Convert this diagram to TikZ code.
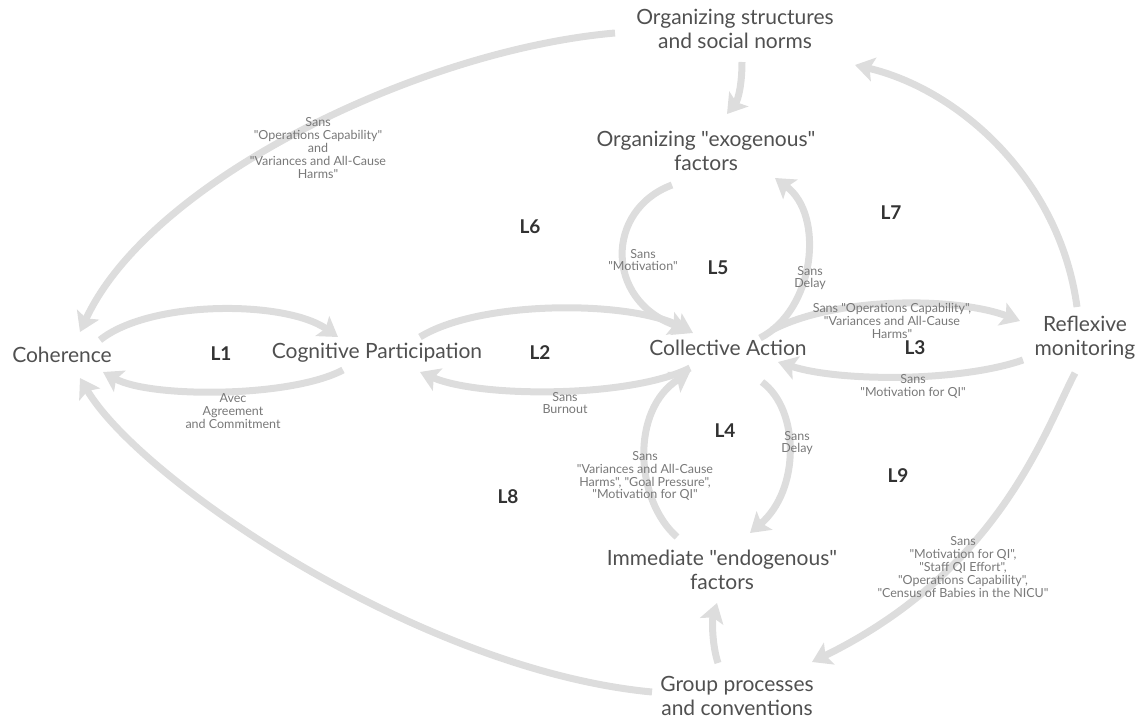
\documentclass[tikz,border=0pt]{standalone}
\usepackage{fontspec}
\setmainfont{Lato}[Ligatures=TeXOff]
\usetikzlibrary{arrows.meta}
\definecolor{flowgray}{RGB}{221,221,221}
\definecolor{nodetext}{RGB}{80,80,80}
\definecolor{looptext}{RGB}{50,50,50}
\definecolor{notetext}{RGB}{120,120,120}
\tikzset{
  x=1pt, y=-1pt,
  concept/.style={text=nodetext, font=\fontsize{21}{23.5}\selectfont, align=center, inner sep=0pt},
  looplabel/.style={text=looptext, font=\fontsize{19}{21}\selectfont\bfseries, inner sep=0pt},
  note/.style={text=notetext, font=\fontsize{12.5}{12.8}\selectfont, align=center, inner sep=0pt},
  flow/.style={draw=flowgray, line width=7pt,
    -{Stealth[length=19pt, width=24pt, inset=4pt]}},
}
\begin{document}
\begin{tikzpicture}
\useasboundingbox (0,0) rectangle (1141,722);

% concept nodes
\node[concept] (coh)  at (62,355)  {Coherence};
\node[concept] (cog)  at (377,353) {Cognitive Participation};
\node[concept] (col)  at (728,348) {Collective Action};
\node[concept] (ref)  at (1085,338) {Reflexive\\monitoring};
\node[concept] (ost)  at (735,29)  {Organizing structures\\and social norms};
\node[concept] (exo)  at (706,151) {Organizing "exogenous"\\factors};
\node[concept] (endo) at (722,570) {Immediate "endogenous"\\factors};
\node[concept] (grp)  at (737,696) {Group processes\\and conventions};

% connectors between the concepts
\draw[flow] ([shift={(38,-15)}]coh.center) .. controls (150,300) and (285,300) .. ([shift={(-39,-16)}]cog.center);
\draw[flow] ([shift={(-34,17)}]cog.center) .. controls (290,398) and (150,398) .. ([shift={(41,17)}]coh.center);
\draw[flow] ([shift={(43,-16)}]cog.center) .. controls (480,300) and (630,300) .. ([shift={(-35,-15)}]col.center);
\draw[flow] ([shift={(-38,20)}]col.center) .. controls (630,398) and (480,398) .. ([shift={(43,19)}]cog.center);
\draw[flow] ([shift={(44,-18)}]col.center) .. controls (840,295) and (960,298) .. ([shift={(-65,-17)}]ref.center);
\draw[flow] ([shift={(-62,22)}]ref.center) .. controls (960,382) and (840,382) .. ([shift={(50,14)}]col.center);
\draw[flow] ([shift={(7,33)}]ost.center) .. controls (742,85) and (738,100) .. ([shift={(21,-37)}]exo.center);
\draw[flow] ([shift={(-34,34)}]exo.center) .. controls (605,210) and (605,300) .. ([shift={(-40,-18)}]col.center);
\draw[flow] ([shift={(32,-10)}]col.center) .. controls (815,310) and (825,215) .. ([shift={(69,27)}]exo.center);
\draw[flow] ([shift={(34,34)}]col.center) .. controls (800,410) and (800,490) .. ([shift={(28,-37)}]endo.center);
\draw[flow] ([shift={(-45,-33)}]endo.center) .. controls (635,500) and (630,410) .. ([shift={(-38,24)}]col.center);
\draw[flow] ([shift={(-19,-33)}]grp.center) .. controls (712,645) and (712,620) .. ([shift={(-5,33)}]endo.center);
\draw[flow] ([shift={(-85,-4)}]grp.center) .. controls (420,670) and (140,480) .. ([shift={(18,23)}]coh.center);
\draw[flow] ([shift={(-120,4)}]ost.center) .. controls (420,50) and (150,180) .. ([shift={(18,-23)}]coh.center);
\draw[flow] ([shift={(-8,-31)}]ref.center) .. controls (1060,180) and (960,90) .. ([shift={(120,36)}]ost.center);
\draw[flow] ([shift={(-10,35)}]ref.center) .. controls (1045,430) and (1000,570) .. ([shift={(75,-34)}]grp.center);

% loop labels
\node[looplabel] (l1) at (221,354) {L1};
\node[looplabel] (l2) at (540,353) {L2};
\node[looplabel] (l3) at (915,348) {L3};
\node[looplabel] (l4) at (725,431) {L4};
\node[looplabel] (l5) at (718,268) {L5};
\node[looplabel] (l6) at (530,227) {L6};
\node[looplabel] (l7) at (891,213) {L7};
\node[looplabel] (l8) at (508,497) {L8};
\node[looplabel] (l9) at (898,476) {L9};

% link annotations
\node[note] (n1) at (318,148) {Sans\\"Operations Capability"\\and\\"Variances and All-Cause\\Harms"};
\node[note] (n2) at (643,260) {Sans\\"Motivation"};
\node[note] (n3) at (810,278) {Sans\\Delay};
\node[note] (n4) at (892,321) {Sans "Operations Capability",\\"Variances and All-Cause\\Harms"};
\node[note] (n5) at (913,386) {Sans\\"Motivation for QI"};
\node[note] (n6) at (233,411) {Avec\\Agreement\\and Commitment};
\node[note] (n7) at (565,403) {Sans\\Burnout};
\node[note] (n8) at (645,476) {Sans\\"Variances and All-Cause\\Harms", "Goal Pressure",\\"Motivation for QI"};
\node[note] (n9) at (797,443) {Sans\\Delay};
\node[note] (n10) at (963,567) {Sans\\"Motivation for QI",\\"Staff QI Effort",\\"Operations Capability",\\"Census of Babies in the NICU"};
\end{tikzpicture}
\end{document}
